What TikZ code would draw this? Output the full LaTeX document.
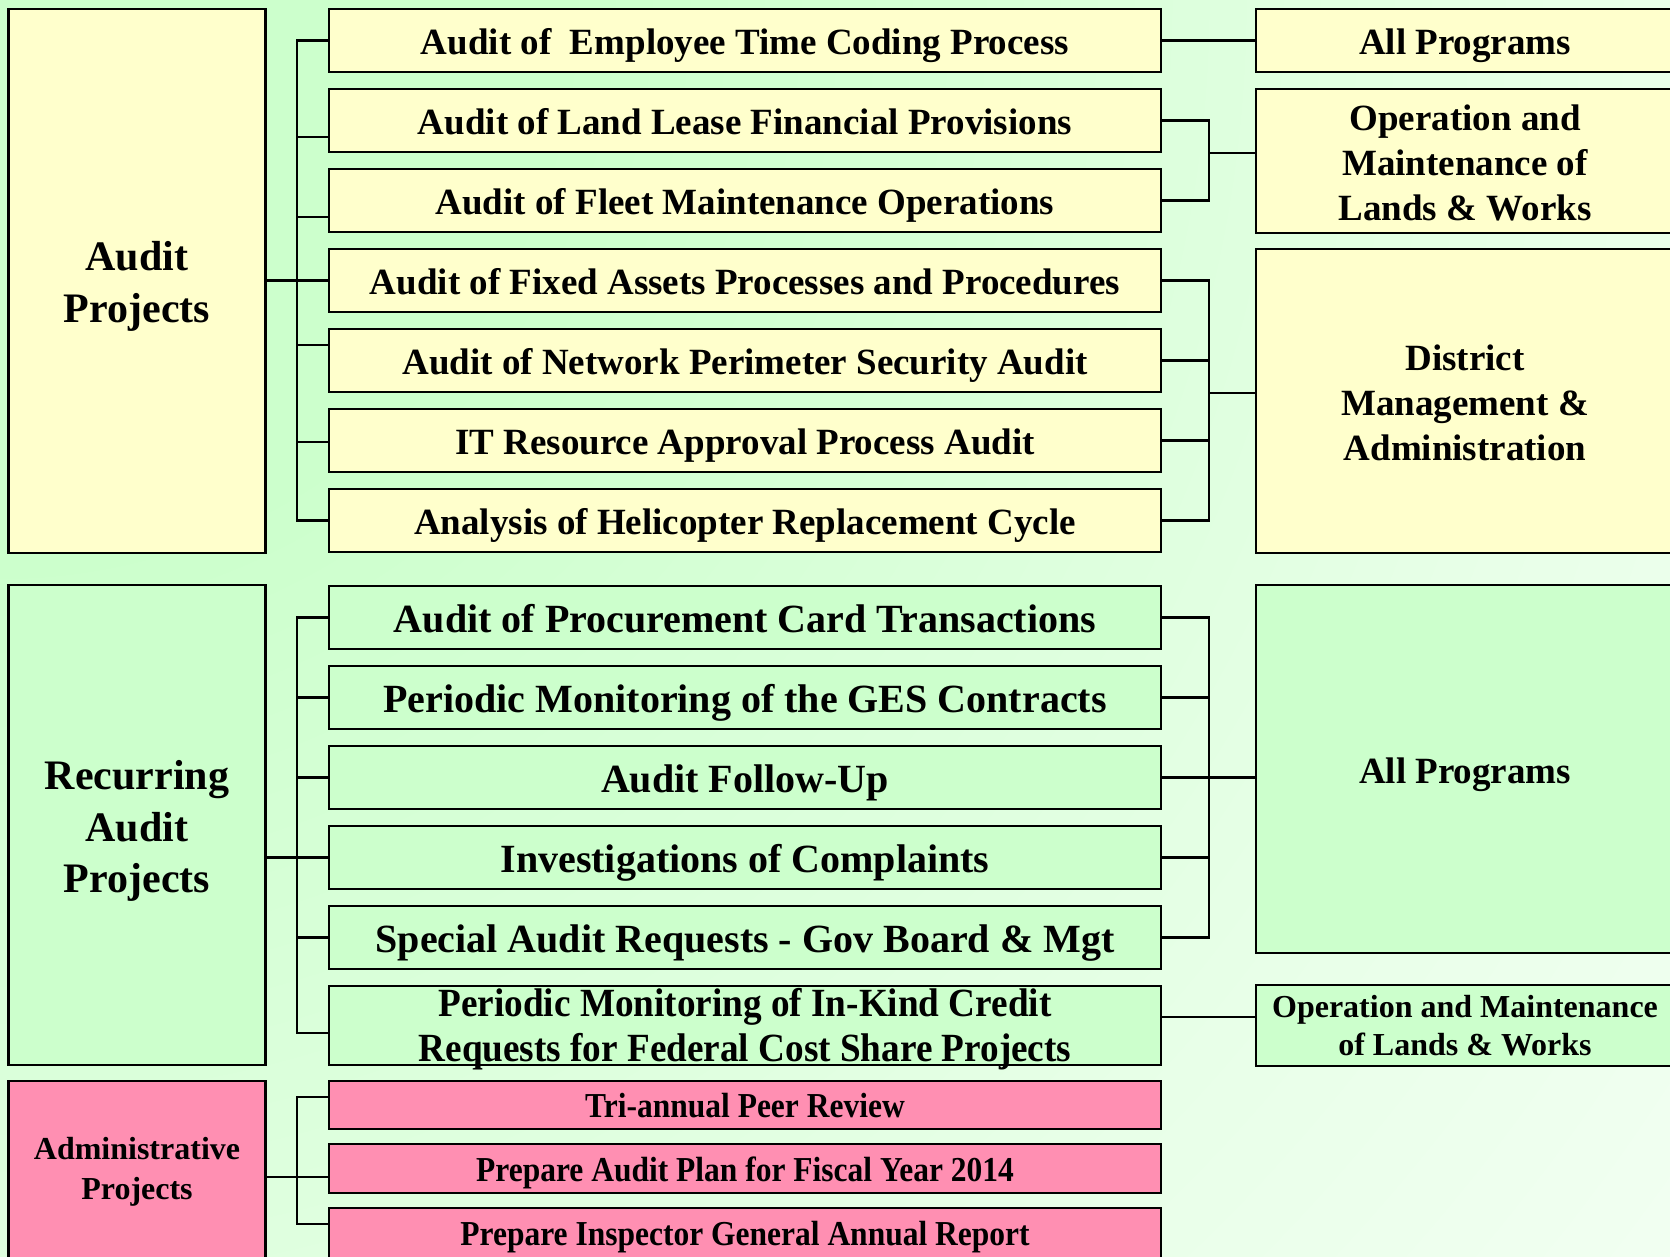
\documentclass[tikz,border=0pt]{standalone}
\usepackage{fontspec}
\setmainfont{Liberation Serif}
\usetikzlibrary{calc}

\definecolor{boxyellow}{HTML}{FFFFCC}
\definecolor{boxgreen}{HTML}{CCFFCC}
\definecolor{boxpink}{HTML}{FF8FB2}
\definecolor{glow}{HTML}{CCFFCC}
\colorlet{glowmid}{glow!45!white}

% soft green glow spreading from the top-left corner
\pgfdeclareradialshading{pageglow}{\pgfpoint{0bp}{0bp}}{%
  color(0bp)=(glow); color(7bp)=(glow); color(20bp)=(glowmid);
  color(35bp)=(white); color(50bp)=(white)}

\tikzset{
  box/.style={draw=black, line width=2.6pt, inner sep=0pt, align=center},
  yel/.style={box, fill=boxyellow},
  grn/.style={box, fill=boxgreen},
  pnk/.style={box, fill=boxpink},
  wire/.style={line width=2.6pt},
  caption/.style={inner sep=0pt, align=center},
  groupbox/.style={minimum width=257pt},
  rightbox/.style={minimum width=418pt, font=\bfseries\fontsize{37}{45}\selectfont},
  oneline/.style={text height=#1, text depth=0pt},
  midA/.style={minimum width=832pt, minimum height=63pt,
    font=\bfseries\fontsize{37}{45}\selectfont, oneline=28.5pt},
  midB/.style={minimum width=832pt, minimum height=63pt,
    font=\bfseries\fontsize{40}{45}\selectfont, oneline=30pt},
  midP/.style={minimum width=832pt,
    font=\bfseries\fontsize{35}{40}\selectfont, oneline=25pt},
}

% stub from a bus line to a box side, shifted down by #3 picture units
\newcommand\busstub[4]{\draw[wire] ($(#2 |- #1.#4)+(0,#3)$) -- ($(#1.#4)+(0,#3)$);}

\begin{document}
\begin{tikzpicture}[x=1pt, y=-1pt]
\useasboundingbox (0,0) rectangle (1670,1256);
\clip (0,0) rectangle (1670,1256);

% page background
\fill[white] (0,0) rectangle (1670,1256);
\shade[shading=pageglow] (-2000,-2000) rectangle (2000,2000);

\coordinate (busL) at (297,0);
\coordinate (busR) at (1209,0);

% ---------- Audit projects ----------
\node[yel, groupbox, minimum height=544pt] (ap) at (137,281) {};
\node[caption, font=\bfseries\fontsize{42}{52}\selectfont]
  (ap-text) at ($(ap.center)+(0,5)$) {Audit\\Projects};

\node[yel, midA] (m1) at (745,40.5)  {Audit of~ Employee Time Coding Process};
\node[yel, midA] (m2) at (745,120.5) {Audit of Land Lease Financial Provisions};
\node[yel, midA] (m3) at (745,200.5) {Audit of Fleet Maintenance Operations};
\node[yel, midA] (m4) at (745,280.5) {Audit of Fixed Assets Processes and Procedures};
\node[yel, midA] (m5) at (745,360.5) {Audit of Network Perimeter Security Audit};
\node[yel, midA] (m6) at (745,440.5) {IT Resource Approval Process Audit};
\node[yel, midA] (m7) at (745,520.5) {Analysis of Helicopter Replacement Cycle};

\node[yel, rightbox, minimum height=63pt, oneline=28.5pt]
  (r1) at (1465,40.5) {All Programs};
\node[yel, rightbox, minimum height=144pt] (r2) at (1465,161) {};
\node[caption, font=\bfseries\fontsize{37}{45}\selectfont]
  (r2-text) at ($(r2.center)+(0,2)$) {Operation and\\Maintenance of\\Lands \& Works};
\node[yel, rightbox, minimum height=304pt] (r3) at (1465,401) {};
\node[caption, font=\bfseries\fontsize{37}{45}\selectfont]
  (r3-text) at ($(r3.center)+(0,2)$) {District\\Management \&\\Administration};

% ---------- Recurring audit projects ----------
\node[grn, groupbox, minimum height=480pt] (rap) at (137,825) {};
\node[caption, font=\bfseries\fontsize{42}{51.5}\selectfont]
  (rap-text) at ($(rap.center)+(0,6)$) {Recurring\\Audit\\Projects};

\node[grn, midB] (g1) at (745,617.5) {Audit of Procurement Card Transactions};
\node[grn, midB] (g2) at (745,697.5) {Periodic Monitoring of the GES Contracts};
\node[grn, midB] (g3) at (745,777.5) {Audit Follow-Up};
\node[grn, midB] (g4) at (745,857.5) {Investigations of Complaints};
\node[grn, midB] (g5) at (745,937.5) {Special Audit Requests - Gov Board \& Mgt};
\node[grn, minimum width=832pt, minimum height=79pt] (g6) at (745,1025.5) {};
\node[caption, font=\bfseries\fontsize{40}{45}\selectfont]
  (g6-text) at ($(g6.center)+(0,4)$)
  {\scalebox{0.93}[1]{Periodic Monitoring of In-Kind Credit}\\
   \scalebox{0.93}[1]{Requests for Federal Cost Share Projects}};

\node[grn, rightbox, minimum height=368pt, oneline=28.5pt] (r4) at (1465,769) {All Programs};
\node[grn, rightbox, minimum height=81pt, font=\bfseries\fontsize{32}{38}\selectfont]
  (r5) at (1465,1025.5) {Operation and Maintenance\\of Lands \& Works};

% ---------- Administrative projects ----------
\node[pnk, groupbox, minimum height=181pt, font=\bfseries\fontsize{32}{40}\selectfont]
  (adm) at (137,1171.5) {Administrative\\Projects};

\node[pnk, midP, minimum height=48pt] (p1) at (745,1105)
  {\scalebox{0.9}[1]{Tri-annual Peer Review}};
\node[pnk, midP, minimum height=49pt] (p2) at (745,1168.5)
  {\scalebox{0.9}[1]{Prepare Audit Plan for Fiscal Year 2014}};
\node[pnk, midP, minimum height=50pt] (p3) at (745,1233)
  {\scalebox{0.9}[1]{Prepare Inspector General Annual Report}};

% ---------- connectors ----------
% audit projects, left fork
\draw[wire] (m1.west) -| (busL |- m7.west) -- (m7.west);
\busstub{m2}{busL}{16.5}{west}
\busstub{m3}{busL}{16.5}{west}
\busstub{m5}{busL}{-15.5}{west}
\busstub{m6}{busL}{1.5}{west}
\draw[wire] (ap.east |- m4.west) -- (m4.west);

% audit projects, right side
\draw[wire] (m1.east) -- (r1.west);
\draw[wire] (m2.east) -| (busR |- m3.east) -- (m3.east);
\busstub{r2}{busR}{-8}{west}
\draw[wire] (m4.east) -| (busR |- m7.east) -- (m7.east);
\busstub{m5}{busR}{0}{east}
\busstub{m6}{busR}{0}{east}
\busstub{r3}{busR}{-8}{west}

% recurring audit projects, left fork
\draw[wire] (g1.west) -| ($(busL |- g6.west)+(0,7.5)$) -- ($(g6.west)+(0,7.5)$);
\busstub{g2}{busL}{0}{west}
\busstub{g3}{busL}{0}{west}
\busstub{g5}{busL}{0}{west}
\draw[wire] (rap.east |- g4.west) -- (g4.west);

% recurring audit projects, right side
\draw[wire] (g1.east) -| (busR |- g5.east) -- (g5.east);
\busstub{g2}{busR}{0}{east}
\busstub{g4}{busR}{0}{east}
\draw[wire] (g3.east) -- (g3.east -| r4.west);
\draw[wire] ($(g6.east)+(0,-8.5)$) -- ($(g6.east -| r5.west)+(0,-8.5)$);

% administrative projects, left fork
\draw[wire] ($(p1.west)+(0,-8)$) -| ($(busL |- p3.west)+(0,-9)$) -- ($(p3.west)+(0,-9)$);
\draw[wire] ($(adm.east |- p2.west)+(0,8.5)$) -- ($(p2.west)+(0,8.5)$);
\end{tikzpicture}
\end{document}
